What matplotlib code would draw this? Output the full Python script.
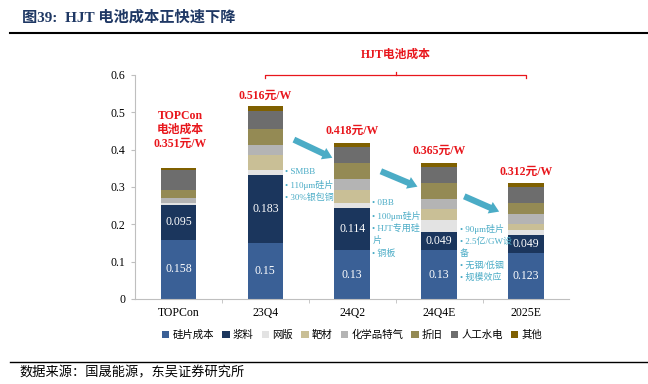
import matplotlib
matplotlib.use('Agg')
import matplotlib.pyplot as plt
from matplotlib.patches import FancyArrowPatch
import numpy as np

plt.rcParams['font.family'] = ['Liberation Serif', 'Noto Sans CJK SC']

categories = ['TOPCon', '23Q4', '24Q2', '24Q4E', '2025E']
series_names = ['硅片成本', '浆料', '网版', '靶材', '化学品特气', '折旧', '人工水电', '其他']
wafer = [0.158, 0.15, 0.13, 0.13, 0.123]
paste = [0.095, 0.183, 0.114, 0.049, 0.049]
screen = [0.005, 0.013, 0.012, 0.032, 0.014]
target = [0.0, 0.040, 0.037, 0.029, 0.014]
chem = [0.012, 0.026, 0.029, 0.029, 0.027]
depre = [0.021, 0.042, 0.042, 0.042, 0.030]
labor = [0.054, 0.050, 0.043, 0.043, 0.043]
other = [0.006, 0.012, 0.011, 0.011, 0.012]
totals = ['0.351', '0.516', '0.418', '0.365', '0.312']
notes = [
    '• SMBB\n• 110μm硅片\n• 30%银包铜',
    '• 0BB\n• 100μm硅片\n• HJT专用硅\n片\n• 铜板',
    '• 90μm硅片\n• 2.5亿/GW设\n备\n• 无铟/低铟\n• 规模效应',
]

colors = ['#3a6096', '#1b365d', '#e3e3e3', '#c9bf96', '#b4b4b4', '#948a54', '#6d6d6d', '#7f6000']
series = [wafer, paste, screen, target, chem, depre, labor, other]

fig = plt.figure(figsize=(6.48, 3.84), dpi=100)
ax = fig.add_axes([0.2083, 0.2214, 0.6705, 0.5833])

x = np.arange(len(categories))
bottom = np.zeros(len(categories))
for name, vals, c in zip(series_names, series, colors):
    ax.bar(x, vals, 0.41, bottom=bottom, color=c, label=name)
    bottom += np.array(vals)

# white value labels on the two bottom segments
for i in x:
    ax.text(i, wafer[i] / 2, str(wafer[i]), ha='center', va='center', color='white', fontsize=8.5)
    ax.text(i, wafer[i] + paste[i] / 2, str(paste[i]), ha='center', va='center', color='white', fontsize=8.5)

red = '#e8161c'
ax.text(0.02, 0.452, 'TOPCon\n电池成本\n' + totals[0] + '元/W', ha='center', va='center',
        color=red, fontsize=8.5, fontweight='bold', linespacing=1.2)
label_y = [0.545, 0.451, 0.397, 0.340]
for i, yy in zip(range(1, 5), label_y):
    ax.text(i, yy, totals[i] + '元/W', ha='center', va='center', color=red, fontsize=8.5, fontweight='bold')

# bracket over HJT bars
ax.plot([1, 1, 4, 4], [0.593, 0.601, 0.601, 0.593], color=red, lw=0.9, clip_on=False)
ax.plot([2.5, 2.5], [0.601, 0.609], color=red, lw=0.9, clip_on=False)
ax.text(2.5, 0.655, 'HJT电池成本', ha='center', va='center', color=red, fontsize=8.5, fontweight='bold',
        clip_on=False)

# arrows
teal = '#4bacc6'
arrows = [((1.30, 0.430), (1.80, 0.375)), ((2.30, 0.345), (2.78, 0.298)), ((3.26, 0.278), (3.72, 0.231))]
for s, e in arrows:
    ax.add_patch(FancyArrowPatch(s, e, arrowstyle='simple,head_width=9,head_length=7,tail_width=4.5',
                                 mutation_scale=1, color=teal, lw=0))

note_pos = [(1.23, 0.350), (2.23, 0.267), (3.24, 0.200)]
for (nx, ny), t in zip(note_pos, notes):
    ax.text(nx, ny, t, ha='left', va='top', color=teal, fontsize=6.5, linespacing=1.45)

ax.set_xlim(-0.5, 4.5)
ax.set_ylim(0, 0.6)
ax.set_yticks(np.arange(0, 0.61, 0.1))
ax.set_yticklabels(['0', '0.1', '0.2', '0.3', '0.4', '0.5', '0.6'])
ax.set_xticks(x)
ax.set_xticklabels(categories)
ax.set_xticks(np.arange(0.5, 4.5, 1), minor=True)
ax.tick_params(axis='x', which='major', length=0, pad=6, labelsize=8.5)
ax.tick_params(axis='x', which='minor', length=3, direction='out', color='#bfbfbf')
ax.tick_params(axis='y', length=3, color='#bfbfbf', labelsize=8.5, pad=4)
for sp in ['top', 'right']:
    ax.spines[sp].set_visible(False)
for sp in ['left', 'bottom']:
    ax.spines[sp].set_color('#bfbfbf')

ax.legend(loc='upper center', bbox_to_anchor=(0.5, -0.095), ncol=8, frameon=False, fontsize=7.5,
          handlelength=0.7, handleheight=0.7, handletextpad=0.3, columnspacing=0.8)

# title and source
fig.text(0.034, 0.955, '图39:  HJT 电池成本正快速下降', ha='left', va='center', fontsize=11,
         fontweight='bold', color='#1f3864')
fig.add_artist(plt.Line2D([0.015, 1.0], [0.914, 0.914], color='black', lw=1.5))
fig.add_artist(plt.Line2D([0.015, 1.0], [0.057, 0.057], color='black', lw=1.0))
fig.text(0.03, 0.028, '数据来源：国晟能源，东吴证券研究所', ha='left', va='center', fontsize=9.5)

fig.savefig('out.png', dpi=100)
